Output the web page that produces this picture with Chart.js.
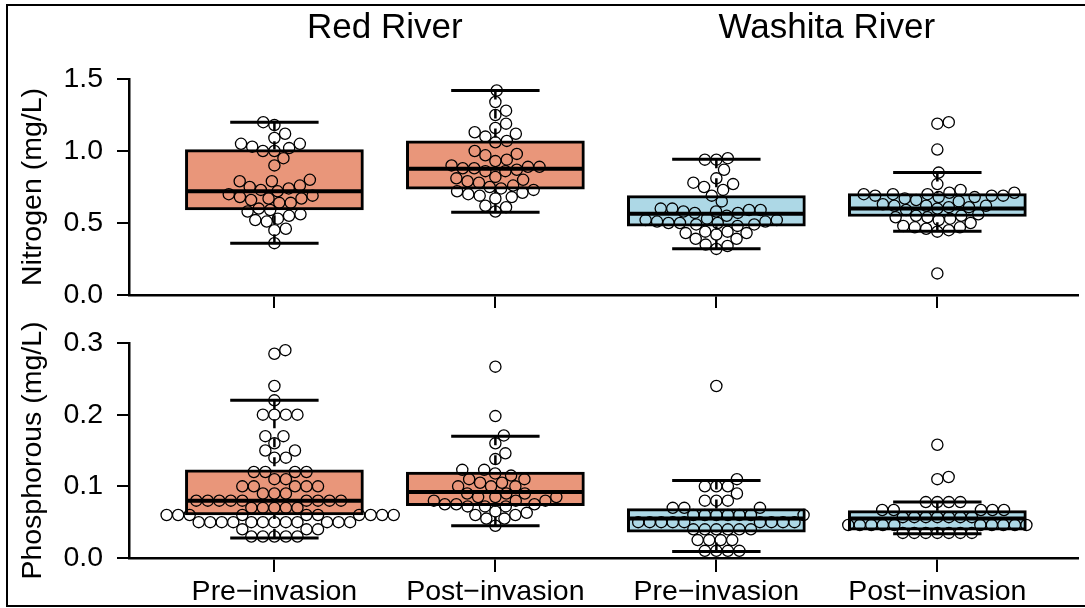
<!DOCTYPE html>
<html>
<head>
<meta charset="utf-8">
<title>Nitrogen and phosphorous before and after invasion</title>
<script src="https://cdn.jsdelivr.net/npm/chart.js@4.4.1/dist/chart.umd.min.js"></script>
<style>
  body { margin: 0; background: #fff; }
  #wrap { position: relative; width: 1085px; height: 608px; overflow: hidden; }
  #frame { position: absolute; left: 6px; top: 4px; width: 1100px; height: 599px; border: 2px solid #000; }
  canvas { position: absolute; left: 0; }
  #nitrogen { top: 0; }
  #phosphorous { top: 310px; }
</style>
</head>
<body>
<div id="wrap">
  <div id="frame"></div>
  <canvas id="nitrogen" width="1085" height="310"></canvas>
  <canvas id="phosphorous" width="1085" height="298"></canvas>
</div>
<script>
// groups: Red River pre/post, Washita River pre/post
const rivers = ['Red River', 'Washita River'];
const periods = ['Pre\u2212invasion', 'Post\u2212invasion', 'Pre\u2212invasion', 'Post\u2212invasion'];
const groupPos = [1, 2, 3, 4];
const boxFill = ['#E9967A', '#E9967A', '#ADD8E6', '#ADD8E6'];

// nitrogen samples (mg/L)
const redPreN = [1.20, 1.18, 1.12, 1.09, 1.05, 1.05, 1.03, 1.02, 1.00, 1.00, 0.95, 0.90, 0.80, 0.79, 0.79,
  0.76, 0.75, 0.74, 0.73, 0.72, 0.70, 0.69, 0.68, 0.67, 0.67, 0.66, 0.64, 0.64, 0.60, 0.59, 0.58, 0.56,
  0.55, 0.53, 0.52, 0.51, 0.46, 0.45, 0.36];
const redPostN = [1.42, 1.34, 1.28, 1.25, 1.19, 1.16, 1.13, 1.12, 1.10, 1.07, 1.06, 1.00, 0.98, 0.97, 0.94,
  0.93, 0.90, 0.89, 0.89, 0.88, 0.88, 0.87, 0.86, 0.86, 0.82, 0.81, 0.80, 0.79, 0.78, 0.76, 0.75, 0.74,
  0.73, 0.72, 0.71, 0.70, 0.69, 0.68, 0.67, 0.62, 0.61, 0.58];
const washPreN = [0.95, 0.94, 0.94, 0.87, 0.81, 0.78, 0.77, 0.75, 0.73, 0.69, 0.65, 0.60, 0.60, 0.59, 0.59,
  0.58, 0.58, 0.57, 0.57, 0.55, 0.53, 0.52, 0.52, 0.51, 0.51, 0.50, 0.50, 0.50, 0.49, 0.49, 0.48, 0.44,
  0.44, 0.43, 0.43, 0.42, 0.39, 0.39, 0.35, 0.34, 0.32];
const washPostN = [1.20, 1.19, 1.01, 0.85, 0.77, 0.73, 0.71, 0.71, 0.70, 0.70, 0.70, 0.69, 0.69, 0.69, 0.68,
  0.68, 0.67, 0.66, 0.65, 0.63, 0.62, 0.62, 0.62, 0.61, 0.61, 0.60, 0.59, 0.56, 0.55, 0.55, 0.54, 0.54,
  0.53, 0.52, 0.50, 0.48, 0.47, 0.47, 0.46, 0.45, 0.44, 0.15];

// phosphorous samples (mg/L)
const redPreP = [0.29, 0.285, 0.24, 0.22, 0.20, 0.20, 0.20, 0.20, 0.17, 0.17, 0.16, 0.15, 0.15, 0.14, 0.14,
  0.12, 0.12, 0.12, 0.12, 0.11, 0.11, 0.10, 0.10, 0.10, 0.10, 0.10, 0.09, 0.09, 0.09,
  0.08, 0.08, 0.08, 0.08, 0.08, 0.08, 0.08, 0.08, 0.08, 0.07, 0.07, 0.07, 0.07, 0.07,
  0.06, 0.06, 0.06, 0.06, 0.06, 0.06, 0.06, 0.06, 0.06, 0.06,
  0.05, 0.05, 0.05, 0.05, 0.05, 0.05, 0.05, 0.05, 0.05, 0.05, 0.05, 0.05,
  0.04, 0.04, 0.04, 0.03, 0.03, 0.03, 0.03, 0.03];
const redPostP = [0.267, 0.198, 0.171, 0.16, 0.146, 0.138, 0.123, 0.123, 0.118, 0.115,
  0.11, 0.11, 0.105, 0.105, 0.10, 0.10, 0.10, 0.09, 0.09, 0.09, 0.085, 0.085, 0.085, 0.08, 0.08, 0.08,
  0.075, 0.075, 0.075, 0.072, 0.072, 0.072, 0.065, 0.063, 0.06, 0.06, 0.055, 0.055, 0.045];
const washPreP = [0.24, 0.11, 0.10, 0.10, 0.10, 0.09, 0.08, 0.08, 0.08, 0.07, 0.07, 0.07,
  0.06, 0.06, 0.06, 0.06, 0.06, 0.06, 0.06, 0.05, 0.05, 0.05, 0.05, 0.05, 0.05, 0.05, 0.05, 0.05,
  0.04, 0.04, 0.04, 0.04, 0.04, 0.04, 0.025, 0.025, 0.025, 0.025, 0.01, 0.01, 0.01, 0.01];
const washPostP = [0.158, 0.113, 0.11, 0.078, 0.078, 0.078, 0.078, 0.067, 0.067, 0.067, 0.067, 0.067,
  0.057, 0.057, 0.057, 0.057, 0.057, 0.057, 0.057,
  0.046, 0.046, 0.046, 0.046, 0.046, 0.046, 0.046, 0.046, 0.046, 0.046,
  0.035, 0.035, 0.035, 0.035, 0.035, 0.035, 0.035];

// box statistics per group: whisker ends, hinges, median
const nLow = [0.36, 0.575, 0.322, 0.443];
const nQ1 = [0.59, 0.735, 0.478, 0.545];
const nMed = [0.72, 0.877, 0.565, 0.60];
const nQ3 = [1.01, 1.07, 0.69, 0.704];
const nHigh = [1.20, 1.42, 0.942, 0.851];

const pLow = [0.028, 0.045, 0.009, 0.034];
const pQ1 = [0.060, 0.073, 0.036, 0.039];
const pMed = [0.080, 0.092, 0.055, 0.055];
const pQ3 = [0.123, 0.120, 0.069, 0.066];
const pHigh = [0.220, 0.170, 0.108, 0.078];

const FONT = '"Liberation Sans", Arial, Helvetica, sans-serif';
const DOT_GAP = 11.6;      // centre spacing of swarm dots, px
const X_MIN = 0.342, X_MAX = 4.637;

Chart.defaults.font.family = FONT;
Chart.defaults.color = '#000';

// turn [x1, y1, x2, y2] pieces into one gapped line series
function segments(pieces) {
  const out = [];
  pieces.forEach(([x1, y1, x2, y2]) => {
    out.push({x: x1, y: y1}, {x: x2, y: y2}, {x: x2, y: null});
  });
  return out;
}

// beeswarm: each dot goes as close to the centre line as it can without overlapping
function swarmOffsets(py, gap) {
  const order = py.map((_, i) => i).sort((a, b) => py[b] - py[a]);
  const placed = [];
  const off = [];
  for (const i of order) {
    const y = py[i];
    const near = placed.filter(p => Math.abs(p.y - y) < gap);
    const cands = [0];
    near.forEach(p => {
      const dx = Math.sqrt(gap * gap - (p.y - y) ** 2);
      cands.push(p.x + dx, p.x - dx);
    });
    cands.sort((a, b) => Math.abs(a) - Math.abs(b));
    const x = cands.find(c => near.every(p => (p.x - c) ** 2 + (p.y - y) ** 2 >= gap * gap - 0.01));
    off[i] = x;
    placed.push({x, y});
  }
  return off;
}

const riverTitles = {
  id: 'riverTitles',
  afterDraw(chart) {
    const {ctx, scales: {x}} = chart;
    ctx.save();
    ctx.font = '35px ' + FONT;
    ctx.fillStyle = '#000';
    ctx.textAlign = 'center';
    ctx.textBaseline = 'alphabetic';
    rivers.forEach((name, r) => {
      const cx = (x.getPixelForValue(groupPos[2 * r]) + x.getPixelForValue(groupPos[2 * r + 1])) / 2;
      ctx.fillText(name, cx, 38);
    });
    ctx.restore();
  }
};

function makePanel(id, cfg) {
  const {groups, low, q1, med, q3, high, yMax, yStep, title, padTop, xHeight, tickLen, showLabels} = cfg;
  const medians = segments(groupPos.map((p, i) => [p - 0.4, med[i], p + 0.4, med[i]]));
  const caps = segments(groupPos.flatMap((p, i) => [
    [p - 0.2, high[i], p + 0.2, high[i]],
    [p - 0.2, low[i], p + 0.2, low[i]]
  ]));
  const stems = segments(groupPos.flatMap((p, i) => [
    [p, high[i], p, q3[i]],
    [p, low[i], p, q1[i]]
  ]));

  const chart = new Chart(document.getElementById(id), {
    type: 'scatter',
    data: {
      datasets: [
        {
          type: 'scatter',
          data: [],
          order: 0,
          clip: false,
          pointRadius: 5.6,
          pointHoverRadius: 5.6,
          pointBorderWidth: 1.3,
          borderColor: '#000',
          backgroundColor: 'rgba(0,0,0,0)'
        },
        {
          type: 'line', data: medians, order: 1,
          borderColor: '#000', borderWidth: 4, borderCapStyle: 'butt',
          pointRadius: 0, spanGaps: false, fill: false
        },
        {
          type: 'line', data: caps, order: 1,
          borderColor: '#000', borderWidth: 3, borderCapStyle: 'butt',
          pointRadius: 0, spanGaps: false, fill: false
        },
        {
          type: 'bar',
          data: groupPos.map((p, i) => ({x: p, y: [q1[i], q3[i]]})),
          order: 2,
          backgroundColor: boxFill,
          borderColor: '#000',
          borderWidth: 3,
          borderSkipped: false,
          barThickness: 178
        },
        {
          type: 'line', data: stems, order: 3,
          borderColor: '#000', borderWidth: 2.5, borderDash: [9, 10], borderCapStyle: 'butt',
          pointRadius: 0, spanGaps: false, fill: false
        }
      ]
    },
    options: {
      responsive: false,
      animation: false,
      events: [],
      layout: {padding: {top: padTop, left: 0, right: 0, bottom: 0}},
      plugins: {legend: {display: false}, tooltip: {enabled: false}},
      scales: {
        x: {
          type: 'linear',
          min: X_MIN,
          max: X_MAX,
          offset: false,
          afterBuildTicks: s => { s.ticks = groupPos.map(v => ({value: v})); },
          afterFit: s => { s.height = xHeight; s.paddingLeft = 0; s.paddingRight = 0; },
          grid: {offset: false, drawOnChartArea: false, drawTicks: true, tickLength: tickLen, color: '#000', lineWidth: 2},
          border: {display: true, color: '#000', width: 2.5},
          ticks: {
            display: showLabels,
            autoSkip: false,
            maxRotation: 0,
            padding: 3,
            color: '#000',
            font: {size: 28.5},
            callback: (v, i) => periods[i]
          }
        },
        y: {
          min: 0,
          max: yMax,
          afterFit: s => { s.width = 129; s.paddingTop = 0; s.paddingBottom = 0; },
          grid: {drawOnChartArea: false, drawTicks: true, tickLength: 12, color: '#000', lineWidth: 2},
          border: {display: true, color: '#000', width: 2.5},
          ticks: {stepSize: yStep, padding: 14, color: '#000', font: {size: 28.5}, callback: v => v.toFixed(1)},
          title: {display: true, text: title, color: '#000', font: {size: 28.5}, padding: {top: 16, bottom: 0}}
        }
      }
    },
    plugins: cfg.plugins || []
  });

  // second pass: dot offsets and box width need the pixel scales
  const xs = chart.scales.x, ys = chart.scales.y;
  const unit = xs.getPixelForValue(2) - xs.getPixelForValue(1);
  const pts = [];
  groups.forEach((vals, g) => {
    const off = swarmOffsets(vals.map(v => ys.getPixelForValue(v)), DOT_GAP);
    vals.forEach((v, i) => pts.push({x: groupPos[g] + off[i] / unit, y: v}));
  });
  chart.data.datasets[0].data = pts;
  chart.data.datasets[3].barThickness = 0.8 * unit;
  chart.update('none');
  return chart;
}

makePanel('nitrogen', {
  groups: [redPreN, redPostN, washPreN, washPostN],
  low: nLow, q1: nQ1, med: nMed, q3: nQ3, high: nHigh,
  yMax: 1.5, yStep: 0.5,
  title: 'Nitrogen (mg/L)',
  padTop: 79, xHeight: 15, tickLen: 13, showLabels: false,
  plugins: [riverTitles]
});

makePanel('phosphorous', {
  groups: [redPreP, redPostP, washPreP, washPostP],
  low: pLow, q1: pQ1, med: pMed, q3: pQ3, high: pHigh,
  yMax: 0.3, yStep: 0.1,
  title: 'Phosphorous (mg/L)',
  padTop: 33, xHeight: 50, tickLen: 14, showLabels: true
});
</script>
</body>
</html>
